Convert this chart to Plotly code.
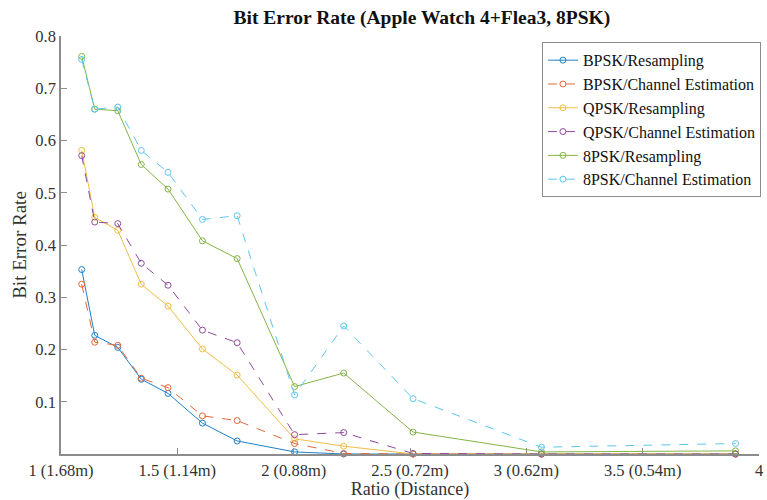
import plotly.graph_objects as go

# Distance ratio at each measurement position
ratio = [1.089, 1.145, 1.244, 1.345, 1.460, 1.608, 1.757, 2.004, 2.215, 2.513, 3.065, 3.899]

# Bit error rate per modulation / receiver method
bpsk_resampling = [0.353, 0.227, 0.204, 0.143, 0.116, 0.059, 0.025, 0.004, 0.0, 0.0, 0.0, 0.0]
bpsk_channel_est = [0.325, 0.214, 0.208, 0.145, 0.127, 0.073, 0.064, 0.020, 0.001, 0.0, 0.0, 0.0]
qpsk_resampling = [0.581, 0.453, 0.428, 0.325, 0.283, 0.201, 0.151, 0.029, 0.015, 0.0, 0.0, 0.0]
qpsk_channel_est = [0.571, 0.444, 0.441, 0.365, 0.323, 0.237, 0.213, 0.037, 0.041, 0.001, 0.0, 0.0]
psk8_resampling = [0.761, 0.660, 0.657, 0.554, 0.507, 0.408, 0.374, 0.129, 0.155, 0.042, 0.004, 0.006]
psk8_channel_est = [0.755, 0.660, 0.664, 0.581, 0.539, 0.449, 0.456, 0.113, 0.245, 0.106, 0.013, 0.020]

series_names = [
    "BPSK/Resampling", "BPSK/Channel Estimation",
    "QPSK/Resampling", "QPSK/Channel Estimation",
    "8PSK/Resampling", "8PSK/Channel Estimation",
]
series_values = [bpsk_resampling, bpsk_channel_est, qpsk_resampling,
                 qpsk_channel_est, psk8_resampling, psk8_channel_est]

x_tick_vals = [1, 1.5, 2, 2.5, 3, 3.5, 4]
x_tick_text = ["1 (1.68m)", "1.5 (1.14m)", "2 (0.88m)", "2.5 (0.72m)",
               "3 (0.62m)", "3.5 (0.54m)", "4"]
y_tick_vals = [0.1, 0.2, 0.3, 0.4, 0.5, 0.6, 0.7, 0.8]

colors = ["#1f80c8", "#e0673a", "#f0bd45", "#8f4a9e", "#83b544", "#5cc6f0"]
dashes = ["solid", "dash", "solid", "dash", "solid", "dash"]

FONT = "Liberation Serif"

fig = go.Figure()
for name, vals, col, dash in zip(series_names, series_values, colors, dashes):
    fig.add_trace(go.Scatter(
        x=ratio, y=vals, name=name, mode="lines+markers",
        line=dict(color=col, width=1, dash=dash),
        marker=dict(symbol="circle-open", size=6, color=col, line=dict(width=1)),
        cliponaxis=False,
    ))

axis_common = dict(
    showgrid=False, zeroline=False, showline=True,
    linecolor="#8c8c8c", linewidth=1.5,
    ticks="inside", ticklen=6, tickwidth=1.2, tickcolor="#8c8c8c",
    tickfont=dict(family=FONT, size=16.5, color="#333333"),
    mirror=False,
)

fig.update_layout(
    width=767, height=500,
    margin=dict(l=61, r=4, t=36, b=46),
    paper_bgcolor="white", plot_bgcolor="white",
    font=dict(family=FONT, color="#333333"),
    title=dict(
        text="<b>Bit Error Rate (Apple Watch 4+Flea3, 8PSK)</b>",
        font=dict(family=FONT, size=19.5, color="#111111"),
        x=0.55, xanchor="center", y=0.965, yanchor="middle",
    ),
    xaxis=dict(
        range=[1, 4], tickvals=x_tick_vals, ticktext=x_tick_text,
        title=dict(text="Ratio (Distance)", font=dict(family=FONT, size=18, color="#333333"), standoff=4),
        **axis_common,
    ),
    yaxis=dict(
        range=[0, 0.8], tickvals=y_tick_vals, tickformat=".1f",
        title=dict(text="Bit Error Rate", font=dict(family=FONT, size=19, color="#333333"), standoff=4),
        **axis_common,
    ),
    legend=dict(
        x=0.689, y=0.985, xanchor="left", yanchor="top",
        bgcolor="white", bordercolor="#8c8c8c", borderwidth=1,
        font=dict(family=FONT, size=16, color="#111111"),
        tracegroupgap=0, itemwidth=30,
    ),
    showlegend=True,
)

fig.write_html("out.html")
